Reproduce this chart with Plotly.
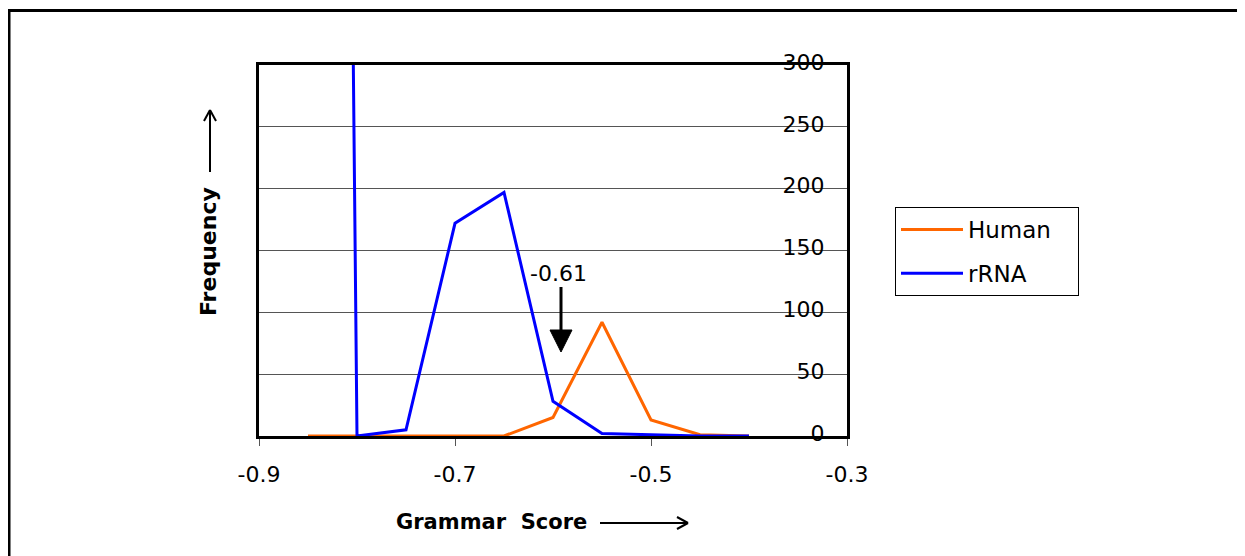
import plotly.graph_objects as go

# ---- data ----
grammar_score = [-0.85, -0.80, -0.75, -0.70, -0.65, -0.60, -0.55, -0.50, -0.45, -0.40]
human_freq = [0, 0, 0, 0, 0, 15, 92, 13, 1, 0]
rrna_freq = [4000, 0, 5, 172, 197, 28, 2, 1, 0, 0]
x_tick_vals = [-0.9, -0.7, -0.5, -0.3]
x_tick_text = ["-0.9", "-0.7", "-0.5", "-0.3"]
y_tick_vals = [0, 50, 100, 150, 200, 250, 300]
y_tick_text = ["0", "50", "100", "150", "200", "250", "300"]
series_names = ["Human", "rRNA"]
marker_value = -0.61

OFF = 8  # page body margin
W, H = 1245 - OFF, 556 - OFF
L, R, T, B = 259, 847, 65, 436   # plot area in reference pixels
FONT = "DejaVu Sans"
PAD = "\u00a0\u00a0\u00a0"


def px(xp, yp):
    return (xp - L) / (R - L), (B - yp) / (B - T)


fig = go.Figure()
fig.add_trace(go.Scatter(x=grammar_score, y=human_freq, mode="lines", name=series_names[0] + PAD,
                         legendgroup="h", line=dict(color="#FF6600", width=3)))
fig.add_trace(go.Scatter(x=grammar_score, y=rrna_freq, mode="lines", name=series_names[1] + PAD,
                         legendgroup="r", line=dict(color="#0000FF", width=3)))

shapes = []
# outer border
x0, y0 = px(9, 10.5)
x1, y1 = px(1244, 575)
shapes.append(dict(type="rect", xref="paper", yref="paper", x0=x0, y0=y1, x1=x1, y1=y0,
                   line=dict(color="black", width=3), layer="below"))


def seg(a, b, w=2):
    ax, ay = px(*a)
    bx, by = px(*b)
    return dict(type="line", xref="paper", yref="paper", x0=ax, y0=ay, x1=bx, y1=by,
                line=dict(color="black", width=w))


# horizontal arrow after x title
shapes += [seg((600, 523), (688, 523)), seg((688, 523), (677, 517)), seg((688, 523), (677, 529))]
# vertical arrow after y title
shapes += [seg((210, 172), (210, 110)), seg((210, 110), (204, 121)), seg((210, 110), (216, 121))]
# marker arrow
shapes.append(seg((561, 287), (561, 332), 3))
p1 = px(550, 330); p2 = px(572, 330); p3 = px(561, 352)
shapes.append(dict(type="path", xref="paper", yref="paper",
                   path=f"M {p1[0]} {p1[1]} L {p2[0]} {p2[1]} L {p3[0]} {p3[1]} Z",
                   fillcolor="black", line=dict(color="black", width=1)))

annotations = []
ax_, ay_ = px(491, 522)
annotations.append(dict(text="<b>Grammar  Score</b>", xref="paper", yref="paper", x=ax_, y=ay_,
                        showarrow=False, xanchor="center", yanchor="middle",
                        font=dict(family=FONT, size=21, color="black")))
fx, fy = px(208, 252)
annotations.append(dict(text="<b>Frequency</b>", xref="paper", yref="paper", x=fx, y=fy,
                        showarrow=False, textangle=-90, xanchor="center", yanchor="middle",
                        font=dict(family=FONT, size=22, color="black")))
mx, my = px(558, 273)
annotations.append(dict(text=f"{marker_value:.2f}", xref="paper", yref="paper", x=mx, y=my,
                        showarrow=False, xanchor="center", yanchor="middle",
                        font=dict(family=FONT, size=22, color="black")))

lx, ly = px(895, 207)
fig.update_layout(
    width=W, height=H,
    margin=dict(l=L - OFF, r=W - (R - OFF), t=T - OFF, b=H - (B - OFF), pad=0),
    paper_bgcolor="white", plot_bgcolor="white",
    font=dict(family=FONT, size=22, color="black"),
    showlegend=True,
    legend=dict(x=lx, y=ly, xanchor="left", yanchor="top", bordercolor="black", borderwidth=1,
                bgcolor="white", font=dict(family=FONT, size=23, color="black"),
                itemwidth=62, tracegroupgap=11),
    xaxis=dict(range=[-0.9, -0.3], tickvals=x_tick_vals, ticktext=x_tick_text,
               ticks="outside", ticklen=7, tickcolor="#555", tickwidth=1,
               showline=True, linecolor="black", linewidth=3, mirror=True,
               showgrid=False, zeroline=False, ticklabelstandoff=10,
               ticklabeloverflow="allow", tickfont=dict(family=FONT, size=22, color="black")),
    yaxis=dict(range=[0, 300], tickvals=y_tick_vals, ticktext=y_tick_text, side="right",
               ticklabelposition="inside", ticks="", showline=True, linecolor="black",
               linewidth=3, mirror=True, showgrid=True, gridcolor="#555", gridwidth=1,
               zeroline=False, ticklabelstandoff=24, ticklabelshift=-3,
               ticklabeloverflow="allow", tickfont=dict(family=FONT, size=22, color="black")),
    shapes=shapes, annotations=annotations,
)
fig.write_html("out.html")
